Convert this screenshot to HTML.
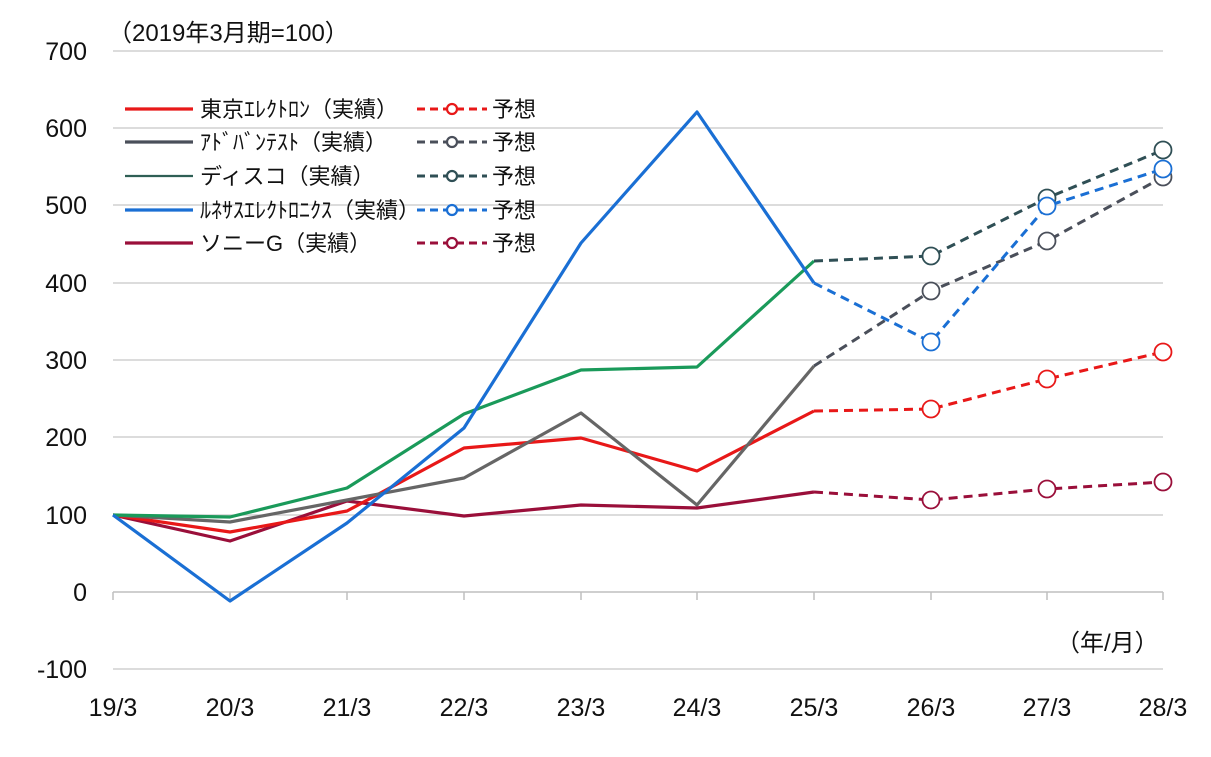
<!DOCTYPE html>
<html><head><meta charset="utf-8"><style>
body{margin:0;background:#fff}
svg{display:block;font-family:"Liberation Sans","Noto Sans CJK JP",sans-serif}
</style></head><body>
<svg width="1211" height="757" viewBox="0 0 1211 757">
<g stroke="#c8c8c8" stroke-width="1.3">
<line x1="113" x2="1163" y1="51" y2="51"/><line x1="113" x2="1163" y1="128" y2="128"/>
<line x1="113" x2="1163" y1="205" y2="205"/><line x1="113" x2="1163" y1="283" y2="283"/>
<line x1="113" x2="1163" y1="360" y2="360"/><line x1="113" x2="1163" y1="437" y2="437"/>
<line x1="113" x2="1163" y1="515" y2="515"/><line x1="113" x2="1163" y1="669" y2="669"/>
</g>
<g stroke="#bfbfbf" stroke-width="1.5">
<line x1="113" x2="1163" y1="592" y2="592"/>
<line x1="113" x2="113" y1="592" y2="600"/><line x1="230" x2="230" y1="592" y2="600"/>
<line x1="347" x2="347" y1="592" y2="600"/><line x1="464" x2="464" y1="592" y2="600"/>
<line x1="581" x2="581" y1="592" y2="600"/><line x1="697" x2="697" y1="592" y2="600"/>
<line x1="814" x2="814" y1="592" y2="600"/><line x1="931" x2="931" y1="592" y2="600"/>
<line x1="1047" x2="1047" y1="592" y2="600"/><line x1="1163" x2="1163" y1="592" y2="600"/>
</g>
<g font-size="25" fill="#111" text-anchor="end">
<text x="87" y="60">700</text><text x="87" y="137">600</text><text x="87" y="214">500</text>
<text x="87" y="292">400</text><text x="87" y="369">300</text><text x="87" y="446">200</text>
<text x="87" y="524">100</text><text x="87" y="601">0</text><text x="87" y="678">-100</text>
</g>
<g font-size="25" fill="#111" text-anchor="middle">
<text x="113" y="716">19/3</text><text x="230" y="716">20/3</text><text x="347" y="716">21/3</text>
<text x="464" y="716">22/3</text><text x="581" y="716">23/3</text><text x="697" y="716">24/3</text>
<text x="814" y="716">25/3</text><text x="931" y="716">26/3</text><text x="1047" y="716">27/3</text>
<text x="1163" y="716">28/3</text>
</g>
<text x="108" y="41" font-size="24" fill="#111">（2019年3月期=100）</text>
<text x="1056" y="651" font-size="24" fill="#111">（年/月）</text>
<g fill="none" stroke-width="3.2" stroke-linejoin="round">
<polyline stroke="#9a0f3a" points="113,515 230,541 347,501 464,516 581,505 697,508 814,492"/>
<polyline stroke="#e81818" points="113,515 230,532 347,511 464,448 581,438 697,471 814,411"/>
<polyline stroke="#666" points="113,515 230,522 347,500 464,478 581,413 697,505 814,366"/>
<polyline stroke="#1a9a5a" points="113,515 230,517 347,488 464,414 581,370 697,367 814,261"/>
<polyline stroke="#1a6fd4" points="113,515 230,601 347,523 464,428 581,243 697,112 814,283"/>
</g>
<g fill="none" stroke-width="3" stroke-dasharray="9,6">
<polyline stroke="#9a0f3a" points="814,492 931,500 1047,489 1163,482"/>
<polyline stroke="#e81818" points="814,411 931,409 1047,379 1163,352"/>
<polyline stroke="#4a4f5a" points="814,366 931,291 1047,241 1163,177"/>
<polyline stroke="#2f4f55" points="814,261 931,256 1047,198 1163,150"/>
<polyline stroke="#1a6fd4" points="814,283 931,342 1047,206 1163,169"/>
</g>
<g fill="#fff" stroke-width="1.8">
<g stroke="#9a0f3a"><circle cx="931" cy="500" r="8.5"/><circle cx="1047" cy="489" r="8.5"/><circle cx="1163" cy="482" r="8.5"/></g>
<g stroke="#e81818"><circle cx="931" cy="409" r="8.5"/><circle cx="1047" cy="379" r="8.5"/><circle cx="1163" cy="352" r="8.5"/></g>
<g stroke="#4a4f5a"><circle cx="931" cy="291" r="8.5"/><circle cx="1047" cy="241" r="8.5"/><circle cx="1163" cy="177" r="8.5"/></g>
<g stroke="#2f4f55"><circle cx="931" cy="256" r="8.5"/><circle cx="1047" cy="198" r="8.5"/><circle cx="1163" cy="150" r="8.5"/></g>
<g stroke="#1a6fd4"><circle cx="931" cy="342" r="8.5"/><circle cx="1047" cy="206" r="8.5"/><circle cx="1163" cy="169" r="8.5"/></g>
</g>
<g stroke-width="3.2">
<line x1="125" x2="193" y1="109" y2="109" stroke="#e81818"/>
<line x1="125" x2="193" y1="142" y2="142" stroke="#4a4f5a"/>
<line x1="125" x2="193" y1="176" y2="176" stroke="#2f5f55" stroke-width="2.2"/>
<line x1="125" x2="193" y1="210" y2="210" stroke="#1a6fd4"/>
<line x1="125" x2="193" y1="243" y2="243" stroke="#9a0f3a"/>
</g>
<g font-size="22" fill="#111">
<text x="200" y="117">東京ｴﾚｸﾄﾛﾝ（実績）</text>
<text x="200" y="150">ｱﾄﾞﾊﾞﾝﾃｽﾄ（実績）</text>
<text x="200" y="184">ディスコ（実績）</text>
<text x="200" y="218">ﾙﾈｻｽｴﾚｸﾄﾛﾆｸｽ（実績）</text>
<text x="200" y="251">ソニーG（実績）</text>
<text x="492" y="117">予想</text><text x="492" y="150">予想</text><text x="492" y="184">予想</text>
<text x="492" y="218">予想</text><text x="492" y="251">予想</text>
</g>
<g fill="#fff" stroke-width="3" stroke-dasharray="8,5">
<g stroke="#e81818"><line x1="417" x2="487" y1="109" y2="109"/></g>
<g stroke="#4a4f5a"><line x1="417" x2="487" y1="142" y2="142"/></g>
<g stroke="#2f4f55"><line x1="417" x2="487" y1="176" y2="176"/></g>
<g stroke="#1a6fd4"><line x1="417" x2="487" y1="210" y2="210"/></g>
<g stroke="#9a0f3a"><line x1="417" x2="487" y1="243" y2="243"/></g>
</g>
<g fill="#fff" stroke-width="2.2">
<circle cx="452" cy="109" r="5" stroke="#e81818"/><circle cx="452" cy="142" r="5" stroke="#4a4f5a"/>
<circle cx="452" cy="176" r="5" stroke="#2f4f55"/><circle cx="452" cy="210" r="5" stroke="#1a6fd4"/>
<circle cx="452" cy="243" r="5" stroke="#9a0f3a"/>
</g>
</svg>
</body></html>
